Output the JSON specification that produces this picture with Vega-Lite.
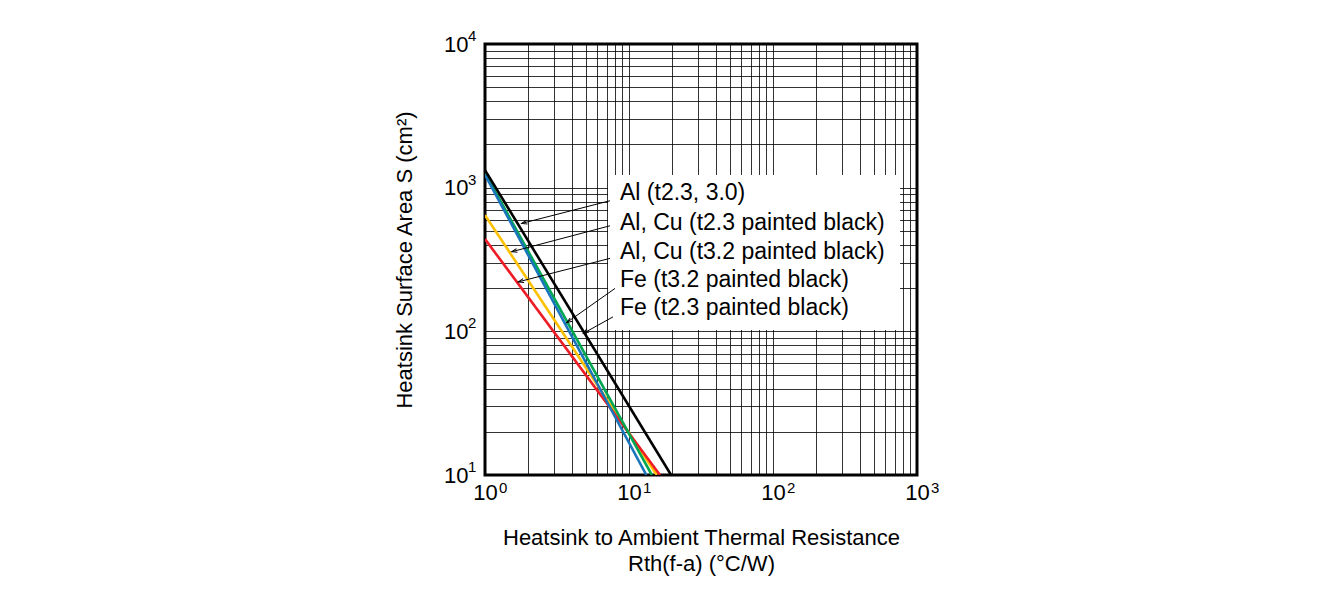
{
  "$schema": "https://vega.github.io/schema/vega-lite/v6.json",
  "width": 432,
  "height": 431,
  "autosize": {"type": "none"},
  "padding": {"left": 485, "top": 44, "right": 409, "bottom": 131},
  "background": "white",
  "config": {
    "font": "Liberation Sans",
    "view": {"stroke": "#000", "strokeWidth": 3},
    "axis": {
      "grid": true,
      "gridColor": "#000",
      "gridOpacity": 0.8,
      "gridWidth": 1,
      "domain": false,
      "ticks": false,
      "labelFontSize": 22,
      "labelColor": "#000",
      "labelOverlap": false,
      "labelFlush": false,
      "titleFontSize": 22,
      "titleFontWeight": "normal",
      "titleColor": "#000"
    }
  },
  "datasets": {
    "curves": [
      {"s": "yellow", "r": 1, "a": 644},
      {"s": "yellow", "r": 15.6, "a": 10},
      {"s": "red", "r": 1, "a": 439},
      {"s": "red", "r": 16.4, "a": 10},
      {"s": "green", "r": 1, "a": 1264},
      {"s": "green", "r": 14.4, "a": 10},
      {"s": "blue", "r": 1, "a": 1230},
      {"s": "blue", "r": 13.2, "a": 10},
      {"s": "black", "r": 1, "a": 1324},
      {"s": "black", "r": 19.6, "a": 10}
    ],
    "box": [{"x1": 7.15, "x2": 762, "y1": 102, "y2": 1224}],
    "labels": [
      {"t": "Al (t2.3, 3.0)", "x": 8.66, "y": 917},
      {"t": "Al, Cu (t2.3 painted black)", "x": 8.66, "y": 568},
      {"t": "Al, Cu (t3.2 painted black)", "x": 8.66, "y": 357},
      {"t": "Fe (t3.2 painted black)", "x": 8.66, "y": 227.5},
      {"t": "Fe (t2.3 painted black)", "x": 8.66, "y": 145}
    ],
    "leaders": [
      {"id": 1, "g": "a", "x": 7.38, "y": 811},
      {"id": 1, "g": "a", "x": 1.80, "y": 564},
      {"id": 2, "g": "a", "x": 7.38, "y": 543},
      {"id": 2, "g": "a", "x": 1.532, "y": 358},
      {"id": 3, "g": "a", "x": 7.38, "y": 322},
      {"id": 3, "g": "a", "x": 1.703, "y": 221},
      {"id": 4, "g": "b", "x": 8.0, "y": 199},
      {"id": 4, "g": "b", "x": 3.69, "y": 115},
      {"id": 5, "g": "b", "x": 7.74, "y": 126},
      {"id": 5, "g": "b", "x": 4.82, "y": 96.9}
    ],
    "tips": [
      {"id": 1, "g": "a", "x": 1.80, "y": 564},
      {"id": 2, "g": "a", "x": 1.532, "y": 358},
      {"id": 3, "g": "a", "x": 1.703, "y": 221},
      {"id": 4, "g": "b", "x": 3.69, "y": 115},
      {"id": 5, "g": "b", "x": 4.82, "y": 96.9}
    ],
    "xexp": [
      {"v": 1, "e": "0"},
      {"v": 10, "e": "1"},
      {"v": 100, "e": "2"},
      {"v": 1000, "e": "3"}
    ],
    "yexp": [
      {"v": 10, "e": "1"},
      {"v": 100, "e": "2"},
      {"v": 1000, "e": "3"},
      {"v": 10000, "e": "4"}
    ]
  },
  "layer": [
    {
      "data": {"name": "box"},
      "mark": {"type": "rect", "fill": "white", "stroke": null},
      "encoding": {
        "x": {
          "field": "x1", "type": "quantitative",
          "scale": {"type": "log", "domain": [1, 1000]},
          "axis": {
            "values": [1,2,3,4,5,6,7,8,9,10,20,30,40,50,60,70,80,90,100,200,300,400,500,600,700,800,900,1000],
            "labelExpr": "indexof([1, 10, 100, 1000], datum.value) >= 0 ? '10' : ''",
            "labelAlign": "center",
            "labelPadding": 7,
            "title": ["Heatsink to Ambient Thermal Resistance", "Rth(f-a) (°C/W)"],
            "titlePadding": 24,
            "titleLineHeight": 26
          }
        },
        "x2": {"field": "x2"},
        "y": {
          "field": "y1", "type": "quantitative",
          "scale": {"type": "log", "domain": [10, 10000]},
          "axis": {
            "values": [10,20,30,40,50,60,70,80,90,100,200,300,400,500,600,700,800,900,1000,2000,3000,4000,5000,6000,7000,8000,9000,10000],
            "labelExpr": "indexof([10, 100, 1000, 10000], datum.value) >= 0 ? '10' : ''",
            "labelPadding": 17,
            "labelDy": 2,
            "title": "Heatsink Surface Area S (cm²)",
            "titlePadding": 27
          }
        },
        "y2": {"field": "y2"}
      }
    },
    {
      "data": {"name": "curves"},
      "mark": {"type": "line", "strokeWidth": 2.6, "clip": true},
      "encoding": {
        "x": {"field": "r", "type": "quantitative"},
        "y": {"field": "a", "type": "quantitative"},
        "detail": {"field": "s"},
        "color": {
          "field": "s", "type": "nominal",
          "scale": {"domain": ["yellow", "red", "green", "blue", "black"], "range": ["#ffc000", "#ee1c25", "#00a650", "#1a75bc", "#000000"]},
          "legend": null
        },
        "order": {"field": "r"}
      }
    },
    {
      "data": {"name": "leaders"},
      "mark": {"type": "line", "color": "#000", "strokeWidth": 1},
      "encoding": {
        "x": {"field": "x", "type": "quantitative"},
        "y": {"field": "y", "type": "quantitative"},
        "detail": {"field": "id"}
      }
    },
    {
      "data": {"name": "tips"},
      "transform": [{"filter": "datum.g == 'a'"}],
      "mark": {"type": "point", "shape": "M -2 -0.7 L 0 0 L -2 0.7", "filled": false, "stroke": "#000", "strokeWidth": 1, "size": 30, "angle": 166, "opacity": 1},
      "encoding": {
        "x": {"field": "x", "type": "quantitative"},
        "y": {"field": "y", "type": "quantitative"}
      }
    },
    {
      "data": {"name": "tips"},
      "transform": [{"filter": "datum.g == 'b'"}],
      "mark": {"type": "point", "shape": "M -2 -0.7 L 0 0 L -2 0.7", "filled": false, "stroke": "#000", "strokeWidth": 1, "size": 30, "angle": 147, "opacity": 1},
      "encoding": {
        "x": {"field": "x", "type": "quantitative"},
        "y": {"field": "y", "type": "quantitative"}
      }
    },
    {
      "data": {"name": "labels"},
      "mark": {"type": "text", "align": "left", "baseline": "middle", "fontSize": 23, "color": "#000"},
      "encoding": {
        "x": {"field": "x", "type": "quantitative"},
        "y": {"field": "y", "type": "quantitative"},
        "text": {"field": "t"}
      }
    },
    {
      "data": {"name": "xexp"},
      "mark": {"type": "text", "align": "left", "baseline": "middle", "fontSize": 15, "color": "#000", "dx": 14, "dy": 13, "clip": false},
      "encoding": {
        "x": {"field": "v", "type": "quantitative"},
        "y": {"datum": 10},
        "text": {"field": "e"}
      }
    },
    {
      "data": {"name": "yexp"},
      "mark": {"type": "text", "align": "left", "baseline": "middle", "fontSize": 15, "color": "#000", "dx": -17, "dy": -8, "clip": false},
      "encoding": {
        "x": {"datum": 1},
        "y": {"field": "v", "type": "quantitative"},
        "text": {"field": "e"}
      }
    }
  ]
}
